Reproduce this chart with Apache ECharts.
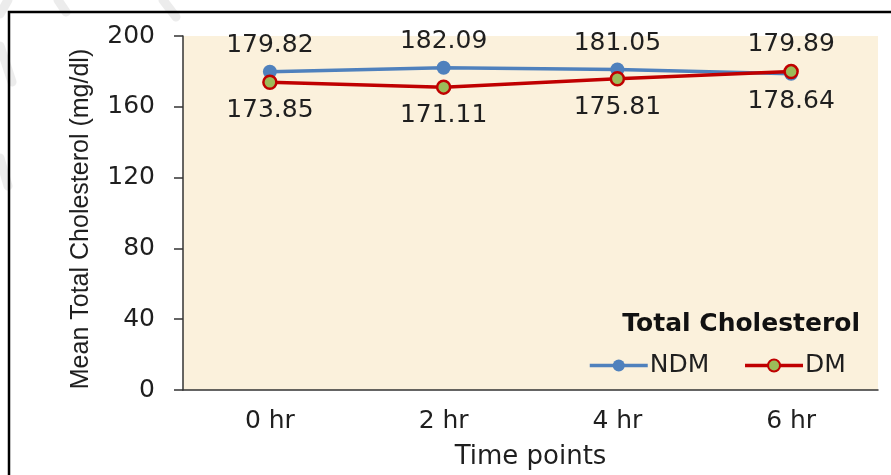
<!DOCTYPE html>
<html>
<head>
<meta charset="utf-8">
<script src="https://cdn.jsdelivr.net/npm/echarts@6/dist/echarts.min.js"></script>
<style>
  html, body { margin: 0; padding: 0; background: #ffffff; }
  #chart { width: 891px; height: 475px; }
</style>
</head>
<body>
<div id="chart"></div>
<script>
// Time points on the x axis
const timePoints = ['0 hr', '2 hr', '4 hr', '6 hr'];
// Mean total cholesterol (mg/dl) per group
const ndmValues = [179.82, 182.09, 181.05, 178.64];
const dmValues = [173.85, 171.11, 175.81, 179.89];
// Y axis range and step
const yMin = 0;
const yMax = 200;
const yStep = 40;

const TEXT_FONT = 'DejaVu Sans';
const TEXT_COLOR = '#1f1f1f';

// Put each value label above the point when its series is the higher one at that time point
function labelled(values, others) {
  return values.map((v, i) => {
    const above = v >= others[i];
    return {
      value: v,
      label: { position: above ? 'top' : 'bottom', distance: above ? 7 : 8 }
    };
  });
}

// Faint grey strokes in the top-left margin
const strokeStyle = { stroke: '#d9d9d9', lineWidth: 9, opacity: 0.5, lineCap: 'round' };
const strokes = [
  [0, 14, 8, 0],
  [58, 0, 66, 12],
  [163, 0, 176, 17],
  [0, 46, 12, 82],
  [0, 158, 8, 186]
].map(([x1, y1, x2, y2]) => ({
  type: 'line',
  silent: true,
  z: 0,
  shape: { x1, y1, x2, y2 },
  style: strokeStyle
}));

const chart = echarts.init(document.getElementById('chart'), null, { renderer: 'canvas' });

chart.setOption({
  animation: false,
  backgroundColor: '#ffffff',
  textStyle: { fontFamily: TEXT_FONT, color: TEXT_COLOR },
  grid: {
    left: 183, top: 36, right: 13, bottom: 82,
    show: true,
    backgroundColor: '#fbf1dc',
    borderWidth: 0
  },
  title: {
    text: 'Total Cholesterol',
    right: 26,
    top: 307,
    textStyle: { fontFamily: TEXT_FONT, fontWeight: 'bold', fontSize: 25, color: '#111' }
  },
  legend: {
    data: ['NDM', 'DM'],
    left: 583,
    top: 348,
    itemWidth: 58,
    itemHeight: 15,
    itemGap: 34,
    lineStyle: { width: 3.5 },
    textStyle: { fontFamily: TEXT_FONT, fontSize: 25, color: TEXT_COLOR, padding: [0, 0, 0, -3] }
  },
  xAxis: {
    type: 'category',
    data: timePoints,
    boundaryGap: true,
    axisLine: { lineStyle: { color: '#333', width: 1.5 } },
    axisTick: { show: false },
    axisLabel: { margin: 19, fontSize: 25, color: TEXT_COLOR, fontFamily: TEXT_FONT },
    name: 'Time points',
    nameLocation: 'middle',
    nameGap: 54,
    nameTextStyle: { fontSize: 26, color: TEXT_COLOR, fontFamily: TEXT_FONT }
  },
  yAxis: {
    type: 'value',
    min: yMin,
    max: yMax,
    interval: yStep,
    axisLine: { show: true, lineStyle: { color: '#333', width: 1.5 } },
    axisTick: { show: true, length: 9, lineStyle: { color: '#333', width: 1.5 } },
    splitLine: { show: false },
    axisLabel: { margin: 28, fontSize: 25, color: TEXT_COLOR, fontFamily: TEXT_FONT },
    name: 'Mean Total Cholesterol (mg/dl)',
    nameLocation: 'middle',
    nameGap: 89,
    nameTextStyle: { fontSize: 25, color: TEXT_COLOR, fontFamily: 'Liberation Sans', padding: [0, 12, 0, 0] }
  },
  series: [
    {
      name: 'NDM',
      type: 'line',
      data: labelled(ndmValues, dmValues),
      symbol: 'circle',
      symbolSize: 14,
      lineStyle: { color: '#4f81bd', width: 3.5 },
      itemStyle: { color: '#4f81bd' },
      label: { show: true, fontSize: 25, color: TEXT_COLOR, fontFamily: TEXT_FONT },
      z: 2
    },
    {
      name: 'DM',
      type: 'line',
      data: labelled(dmValues, ndmValues),
      symbol: 'circle',
      symbolSize: 13,
      lineStyle: { color: '#c00000', width: 3.5 },
      itemStyle: { color: '#9bbb59', borderColor: '#c00000', borderWidth: 2.5 },
      label: { show: true, fontSize: 25, color: TEXT_COLOR, fontFamily: TEXT_FONT },
      z: 3
    }
  ],
  graphic: strokes.concat([
    {
      type: 'polyline',
      silent: true,
      z: 100,
      shape: { points: [[9, 600], [9, 12], [1000, 12]] },
      style: { fill: null, stroke: '#000', lineWidth: 2.5 }
    }
  ])
});
</script>
</body>
</html>
